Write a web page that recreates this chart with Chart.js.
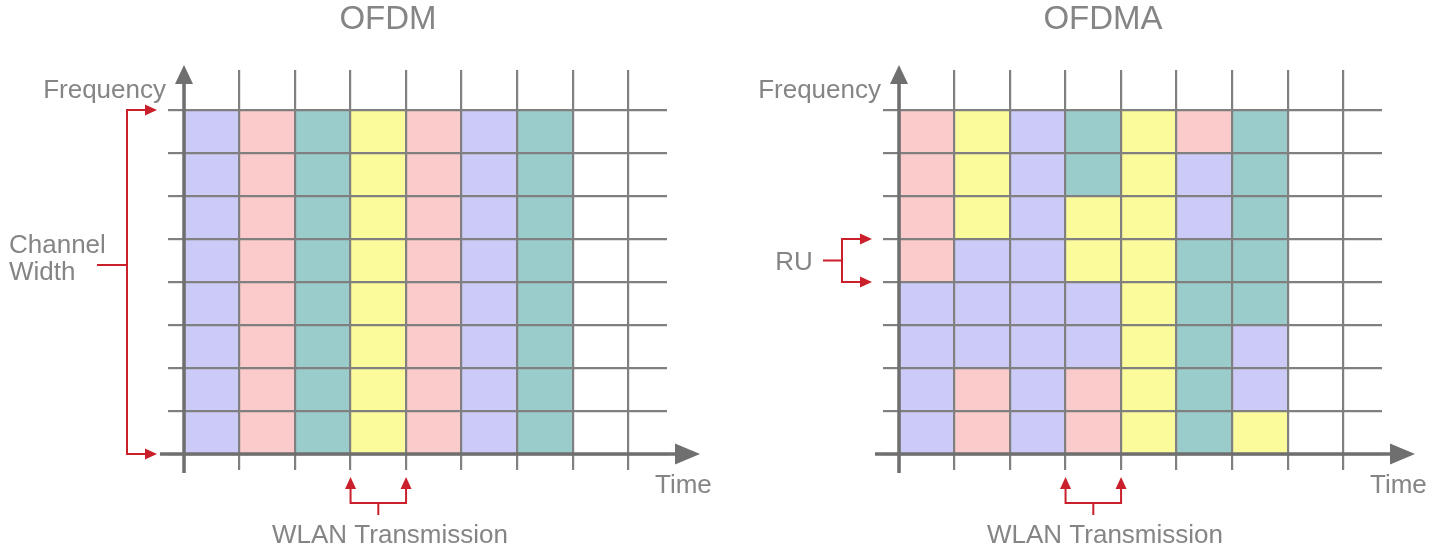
<!DOCTYPE html>
<html>
<head>
<meta charset="utf-8">
<script src="https://cdn.jsdelivr.net/npm/chart.js@4.4.0/dist/chart.umd.min.js"></script>
<style>
  body { margin: 0; background: #fff; }
  .panel { position: absolute; top: 0; width: 715px; height: 549px; }
</style>
</head>
<body>
<div class="panel" style="left:0"><canvas id="ofdm"></canvas></div>
<div class="panel" style="left:715px"><canvas id="ofdma"></canvas></div>
<script>
// ============================================
// DATA
// ============================================

// time slots (columns) that carry data, and grid positions
const timeSlots = [0, 1, 2, 3, 4, 5, 6];
const timeGrid = [0, 1, 2, 3, 4, 5, 6, 7, 8];
const freqGrid = [0, 1, 2, 3, 4, 5, 6, 7, 8];

// OFDM: one user gets the whole channel in each slot
const ofdmUsers = ['A', 'B', 'C', 'D', 'B', 'A', 'C'];

// OFDMA: user of each RU, rows listed top (highest freq) to bottom
const ofdmaRows = [
    ['B', 'D', 'A', 'C', 'D', 'B', 'C'],
    ['B', 'D', 'A', 'C', 'D', 'A', 'C'],
    ['B', 'D', 'A', 'D', 'D', 'A', 'C'],
    ['B', 'A', 'A', 'D', 'D', 'C', 'C'],
    ['A', 'A', 'A', 'A', 'D', 'C', 'C'],
    ['A', 'A', 'A', 'A', 'D', 'C', 'A'],
    ['A', 'B', 'A', 'B', 'D', 'C', 'A'],
    ['A', 'B', 'A', 'B', 'D', 'C', 'D']
];
const ofdmRows = ofdmaRows.map(() => ofdmUsers);

// colours per user
const userColors = { A: '#cccbf8', B: '#fbcaca', C: '#9acccb', D: '#fbfb9c' };

const GRID = '#808080';
const AXIS = '#6f6f6f';
const TEXT = '#858585';
const RED = '#c9202b';
const FONT = '"Liberation Sans", Arial, sans-serif';

// ============================================
// DECORATIONS (axes arrows, labels, brackets)
// ============================================

function arrowHead(ctx, x, y, dir, len, half) {
    ctx.beginPath();
    ctx.moveTo(x, y);
    if (dir === 'up') {
        ctx.lineTo(x - half, y + len);
        ctx.lineTo(x + half, y + len);
    } else {
        ctx.lineTo(x - len, y - half);
        ctx.lineTo(x - len, y + half);
    }
    ctx.closePath();
    ctx.fill();
}

const decorPlugin = {
    id: 'decor',
    afterDraw(chart, args, opts) {
        const ctx = chart.ctx;
        const xs = chart.scales.x, ys = chart.scales.y;
        const a = chart.chartArea;
        const x0 = xs.getPixelForValue(0), y0 = ys.getPixelForValue(0);
        ctx.save();

        // axes
        ctx.strokeStyle = AXIS;
        ctx.fillStyle = AXIS;
        ctx.lineWidth = 3.5;
        ctx.beginPath();
        ctx.moveTo(x0, y0 + 19);
        ctx.lineTo(x0, a.top + 10);
        ctx.moveTo(x0 - 24, y0);
        ctx.lineTo(a.right + 12, y0);
        ctx.stroke();
        arrowHead(ctx, x0, a.top - 5, 'up', 19, 9);
        arrowHead(ctx, a.right + 33, y0, 'right', 25, 10.5);

        // texts
        ctx.fillStyle = TEXT;
        ctx.textBaseline = 'alphabetic';
        ctx.font = '33px ' + FONT;
        ctx.textAlign = 'center';
        ctx.fillText(opts.title, 388, 29);
        ctx.font = '26px ' + FONT;
        ctx.textAlign = 'right';
        ctx.fillText('Frequency', x0 - 18, a.top + 28);
        ctx.textAlign = 'left';
        ctx.fillText('Time', a.right - 12, y0 + 39);
        ctx.textAlign = 'center';
        ctx.fillText('WLAN Transmission', 390, y0 + 89);

        // red bracket on the frequency side
        const bx = x0 - 57, tip = x0 - 27;
        const yTop = ys.getPixelForValue(opts.bracket === 'ru' ? 5 : 8);
        const yBot = ys.getPixelForValue(opts.bracket === 'ru' ? 4 : 0);
        const yMid = opts.bracket === 'ru' ? (yTop + yBot) / 2 : 265;
        ctx.strokeStyle = RED;
        ctx.fillStyle = RED;
        ctx.lineWidth = 2;
        ctx.beginPath();
        ctx.moveTo(tip - 10, yTop);
        ctx.lineTo(bx, yTop);
        ctx.lineTo(bx, yBot);
        ctx.lineTo(tip - 10, yBot);
        ctx.moveTo(opts.bracket === 'ru' ? bx - 19 : bx - 30, yMid);
        ctx.lineTo(bx, yMid);
        ctx.stroke();
        arrowHead(ctx, tip, yTop, 'right', 12, 5.5);
        arrowHead(ctx, tip, yBot, 'right', 12, 5.5);

        // red bracket under one time slot
        const xa = xs.getPixelForValue(3), xb = xs.getPixelForValue(4);
        const xm = (xa + xb) / 2;
        ctx.beginPath();
        ctx.moveTo(xa, y0 + 34);
        ctx.lineTo(xa, y0 + 49);
        ctx.lineTo(xb, y0 + 49);
        ctx.lineTo(xb, y0 + 34);
        ctx.moveTo(xm, y0 + 49);
        ctx.lineTo(xm, y0 + 61);
        ctx.stroke();
        arrowHead(ctx, xa, y0 + 23, 'up', 12, 5.5);
        arrowHead(ctx, xb, y0 + 23, 'up', 12, 5.5);

        // side labels
        ctx.fillStyle = TEXT;
        ctx.font = '26px ' + FONT;
        if (opts.bracket === 'ru') {
            ctx.textAlign = 'center';
            ctx.fillText('RU', 79, yMid + 10);
        } else {
            ctx.textAlign = 'left';
            ctx.fillText('Channel', 9, 253);
            ctx.fillText('Width', 9, 280);
        }
        ctx.restore();
    }
};

// ============================================
// CHARTS
// ============================================

function makeChart(id, rowsTopDown, title, bracket) {
    const datasets = [];
    // bottom row first so stacking goes upward
    for (let r = rowsTopDown.length - 1; r >= 0; r--) {
        const users = rowsTopDown[r];
        datasets.push({
            data: timeSlots.map(t => ({ x: t + 0.5, y: 1 })),
            backgroundColor: users.map(u => userColors[u]),
            borderWidth: 0,
            categoryPercentage: 1,
            barPercentage: 1
        });
    }

    // grid drawn above the cells (z > 0)
    const gridOpts = { offset: false, color: GRID, lineWidth: 2.2, tickLength: 16, drawTicks: true, z: 1 };

    return new Chart(document.getElementById(id), {
        type: 'bar',
        data: { datasets },
        options: {
            responsive: true,
            maintainAspectRatio: false,
            animation: false,
            layout: { padding: { left: 168, right: 48, top: 70, bottom: 79 } },
            plugins: {
                legend: { display: false },
                tooltip: { enabled: false },
                decor: { title, bracket }
            },
            scales: {
                x: {
                    type: 'linear',
                    stacked: true,
                    offset: false,
                    min: 0,
                    max: 8.7,
                    afterBuildTicks: s => { s.ticks = timeGrid.map(v => ({ value: v })); },
                    ticks: { display: false },
                    grid: gridOpts,
                    border: { display: false }
                },
                y: {
                    type: 'linear',
                    stacked: true,
                    min: 0,
                    max: 8.93,
                    afterBuildTicks: s => { s.ticks = freqGrid.map(v => ({ value: v })); },
                    ticks: { display: false },
                    grid: gridOpts,
                    border: { display: false }
                }
            }
        },
        plugins: [decorPlugin]
    });
}

makeChart('ofdm', ofdmRows, 'OFDM', 'channel');
makeChart('ofdma', ofdmaRows, 'OFDMA', 'ru');
</script>
</body>
</html>
